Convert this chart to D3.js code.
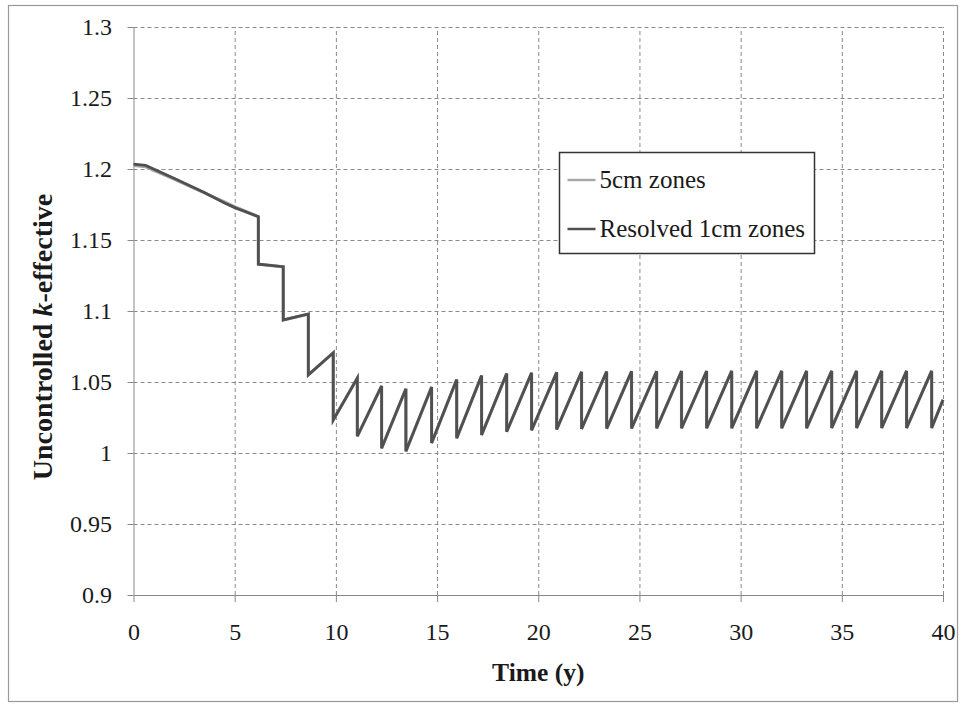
<!DOCTYPE html>
<html>
<head>
<meta charset="utf-8">
<script src="https://cdn.jsdelivr.net/npm/d3@7"></script>
<style>
  body { margin: 0; background: #fff; }
  svg text { font-family: "Liberation Serif", "Times New Roman", serif; }
  .grid line { stroke: #8a8a8a; stroke-dasharray: 4 3; }
  .grid path { display: none; }
  .axis path, .axis line { stroke: #888; }
</style>
</head>
<body>
<svg id="chart"></svg>
<script>
// time points (years); repeated values are the vertical refuelling drops
const timeYears = [0, 0.6, 2.0, 3.5, 4.5, 5.0,
  6.17, 6.17, 7.4, 7.4, 8.64, 8.64, 9.87, 9.87, 11.06, 11.06, 12.26, 12.26,
  13.46, 13.46, 14.73, 14.73, 15.97, 15.97, 17.2, 17.2, 18.44, 18.44,
  19.67, 19.67, 20.91, 20.91, 22.14, 22.14, 23.38, 23.38, 24.61, 24.61,
  25.85, 25.85, 27.08, 27.08, 28.32, 28.32, 29.56, 29.56, 30.79, 30.79,
  32.03, 32.03, 33.26, 33.26, 34.5, 34.5, 35.73, 35.73, 36.97, 36.97,
  38.2, 38.2, 39.44, 39.44, 40];

const resolvedK = [1.2035, 1.2025, 1.1935, 1.1835, 1.1760, 1.1728,
  1.1664, 1.1330, 1.1312, 1.0937, 1.0979, 1.0550, 1.0706, 1.0232,
  1.0528, 1.0118, 1.0472, 1.0033, 1.0453, 1.0012, 1.0465, 1.0070,
  1.0518, 1.0104, 1.0545, 1.0127, 1.0560, 1.0150, 1.0565, 1.0160,
  1.0568, 1.0166, 1.0572, 1.0170, 1.0574, 1.0172, 1.0575, 1.0173,
  1.0576, 1.0174, 1.0577, 1.0174, 1.0577, 1.0175, 1.0578, 1.0175,
  1.0578, 1.0175, 1.0578, 1.0175, 1.0578, 1.0175, 1.0578, 1.0176,
  1.0578, 1.0176, 1.0578, 1.0176, 1.0578, 1.0176, 1.0578, 1.0176,
  1.0375];

const fiveCmK = [1.2025, 1.2016, 1.1930, 1.1832, 1.1768, 1.1735,
  1.1664, 1.1330, 1.1310, 1.0937, 1.0977, 1.0550, 1.0705, 1.0232,
  1.0527, 1.0118, 1.0471, 1.0033, 1.0452, 1.0012, 1.0464, 1.0070,
  1.0517, 1.0104, 1.0545, 1.0127, 1.0559, 1.0150, 1.0565, 1.0160,
  1.0568, 1.0166, 1.0571, 1.0170, 1.0574, 1.0172, 1.0575, 1.0173,
  1.0576, 1.0174, 1.0577, 1.0174, 1.0577, 1.0175, 1.0578, 1.0175,
  1.0578, 1.0175, 1.0578, 1.0175, 1.0578, 1.0175, 1.0578, 1.0176,
  1.0578, 1.0176, 1.0578, 1.0176, 1.0578, 1.0176, 1.0578, 1.0176,
  1.0374];

const xTicks = [0, 5, 10, 15, 20, 25, 30, 35, 40];
const yTicks = [0.9, 0.95, 1, 1.05, 1.1, 1.15, 1.2, 1.25, 1.3];
const yTickLabels = ["0.9", "0.95", "1", "1.05", "1.1", "1.15", "1.2", "1.25", "1.3"];
const seriesNames = ["5cm zones", "Resolved 1cm zones"];

const width = 964;
const height = 704;
const plotLeft = 133.5, plotRight = 943, plotTop = 27, plotBottom = 595;
const serif = "'Liberation Serif', 'Times New Roman', serif";

const svg = d3.select("#chart").attr("width", width).attr("height", height);

// outer frame
svg.append("rect")
  .attr("x", 8.5).attr("y", 5.5)
  .attr("width", 949).attr("height", 696)
  .attr("fill", "none").attr("stroke", "#999").attr("stroke-width", 1.2);

const xScale = d3.scaleLinear().domain([0, 40]).range([plotLeft, plotRight]);
const yScale = d3.scaleLinear().domain([0.9, 1.3]).range([plotBottom, plotTop]);

// grids
svg.append("g")
  .attr("class", "grid")
  .attr("transform", `translate(0, ${plotBottom})`)
  .call(d3.axisBottom(xScale).tickValues(xTicks.slice(1)).tickSize(-(plotBottom - plotTop)).tickFormat(""));

svg.append("g")
  .attr("class", "grid")
  .attr("transform", `translate(${plotLeft}, 0)`)
  .call(d3.axisLeft(yScale).tickValues(yTicks.slice(1)).tickSize(-(plotRight - plotLeft)).tickFormat(""));

// x axis
const xAxis = svg.append("g")
  .attr("class", "axis")
  .attr("transform", `translate(0, ${plotBottom})`)
  .call(d3.axisBottom(xScale).tickValues(xTicks).tickSize(7).tickSizeOuter(0).tickPadding(20.5));
xAxis.attr("font-family", serif).attr("font-size", 24);
xAxis.selectAll("text").attr("fill", "#1a1a1a");

// y axis
const yAxis = svg.append("g")
  .attr("class", "axis")
  .attr("transform", `translate(${plotLeft}, 0)`)
  .call(d3.axisLeft(yScale).tickValues(yTicks).tickSize(6).tickSizeOuter(0).tickPadding(15.5)
    .tickFormat((d, i) => yTickLabels[i]));
yAxis.attr("font-family", serif).attr("font-size", 24);
yAxis.selectAll("text").attr("fill", "#1a1a1a");

// lines
const line = d3.line()
  .x((d, i) => xScale(timeYears[i]))
  .y((d) => yScale(d));

svg.append("path")
  .datum(fiveCmK)
  .attr("fill", "none")
  .attr("stroke", "#a8a8a8")
  .attr("stroke-width", 3.2)
  .attr("d", line);

svg.append("path")
  .datum(resolvedK)
  .attr("fill", "none")
  .attr("stroke", "#505050")
  .attr("stroke-width", 2.8)
  .attr("stroke-linejoin", "miter")
  .attr("d", line);

// axis titles
svg.append("text")
  .attr("x", (plotLeft + plotRight) / 2)
  .attr("y", 681)
  .attr("text-anchor", "middle")
  .attr("fill", "#1a1a1a")
  .attr("font-family", serif)
  .style("font-size", "25.5px")
  .style("font-weight", "bold")
  .text("Time (y)");

const yTitle = svg.append("text")
  .attr("transform", "translate(52, 337) rotate(-90)")
  .attr("text-anchor", "middle")
  .attr("fill", "#1a1a1a")
  .attr("font-family", serif)
  .style("font-size", "28px")
  .style("font-weight", "bold");
yTitle.append("tspan").text("Uncontrolled ");
yTitle.append("tspan").style("font-style", "italic").text("k");
yTitle.append("tspan").text("-effective");

// legend
const legend = svg.append("g").attr("transform", "translate(559.5, 152.5)");
legend.append("rect")
  .attr("width", 255).attr("height", 101)
  .attr("fill", "#fff").attr("stroke", "#333").attr("stroke-width", 1.5);

const legendColors = ["#a8a8a8", "#505050"];
seriesNames.forEach((name, i) => {
  const y = 27.5 + i * 49;
  legend.append("line")
    .attr("x1", 8).attr("x2", 36).attr("y1", y).attr("y2", y)
    .attr("stroke", legendColors[i]).attr("stroke-width", 2.5);
  legend.append("text")
    .attr("x", 40).attr("y", y + 8)
    .attr("fill", "#1a1a1a")
    .attr("font-family", serif)
    .style("font-size", "25px")
    .text(name);
});
</script>
</body>
</html>
